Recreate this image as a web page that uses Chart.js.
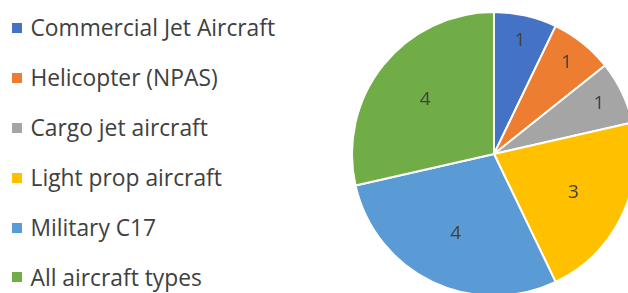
<!DOCTYPE html>
<html>
<head>
<meta charset="utf-8">
<script src="https://cdn.jsdelivr.net/npm/chart.js@4"></script>
<style>
  html, body { margin: 0; padding: 0; background: #fff; width: 628px; height: 293px; overflow: hidden; }
  #wrap { position: relative; width: 628px; height: 293px; overflow: hidden; }
  #legend { position: absolute; left: 12px; top: 3px; margin: 0; padding: 0; list-style: none;
            font-family: "Open Sans", Lato, sans-serif; font-size: 22.8px; color: #404040; }
  #legend li { height: 49.9px; display: flex; align-items: center; white-space: nowrap; }
  #legend .sw { display: inline-block; width: 10px; height: 10px; margin-right: 8.5px; }
  #pieBox { position: absolute; left: 351px; top: 11px; width: 286px; height: 286px; }
</style>
</head>
<body>
<div id="wrap">
  <ul id="legend"></ul>
  <div id="pieBox"><canvas id="c"></canvas></div>
</div>
<script>
const categories = ["Commercial Jet Aircraft", "Helicopter (NPAS)", "Cargo jet aircraft", "Light prop aircraft", "Military C17", "All aircraft types"];
const counts = [1, 1, 1, 3, 4, 4];
const sliceColors = ["#4472C4", "#ED7D31", "#A5A5A5", "#FFC000", "#5B9BD5", "#70AD47"];

const labelPlugin = {
  id: 'sliceLabels',
  afterDatasetsDraw(chart) {
    const ctx = chart.ctx;
    const meta = chart.getDatasetMeta(0);
    ctx.save();
    ctx.font = '19px "Open Sans", Lato, sans-serif';
    ctx.fillStyle = '#404040';
    ctx.textAlign = 'center';
    ctx.textBaseline = 'middle';
    meta.data.forEach((arc, i) => {
      const p = arc.getProps(['x', 'y', 'startAngle', 'endAngle', 'outerRadius'], true);
      const mid = (p.startAngle + p.endAngle) / 2;
      const frac = (p.endAngle - p.startAngle) < 1 ? 0.82 : 0.62;
      const r = p.outerRadius * frac;
      ctx.fillText(String(chart.data.datasets[0].data[i]), p.x + Math.cos(mid) * r, p.y + Math.sin(mid) * r);
    });
    ctx.restore();
  }
};

const chart = new Chart(document.getElementById('c'), {
  type: 'pie',
  data: {
    labels: categories,
    datasets: [{
      data: counts,
      backgroundColor: sliceColors,
      borderColor: '#ffffff',
      borderWidth: 2
    }]
  },
  options: {
    responsive: true,
    maintainAspectRatio: false,
    animation: false,
    layout: { padding: 0 },
    plugins: {
      legend: { display: false },
      tooltip: { enabled: false }
    }
  },
  plugins: [labelPlugin]
});

const legendEl = document.getElementById('legend');
categories.forEach((name, i) => {
  const li = document.createElement('li');
  const sw = document.createElement('span');
  sw.className = 'sw';
  sw.style.background = sliceColors[i];
  li.appendChild(sw);
  li.appendChild(document.createTextNode(name));
  legendEl.appendChild(li);
});
</script>
</body>
</html>
